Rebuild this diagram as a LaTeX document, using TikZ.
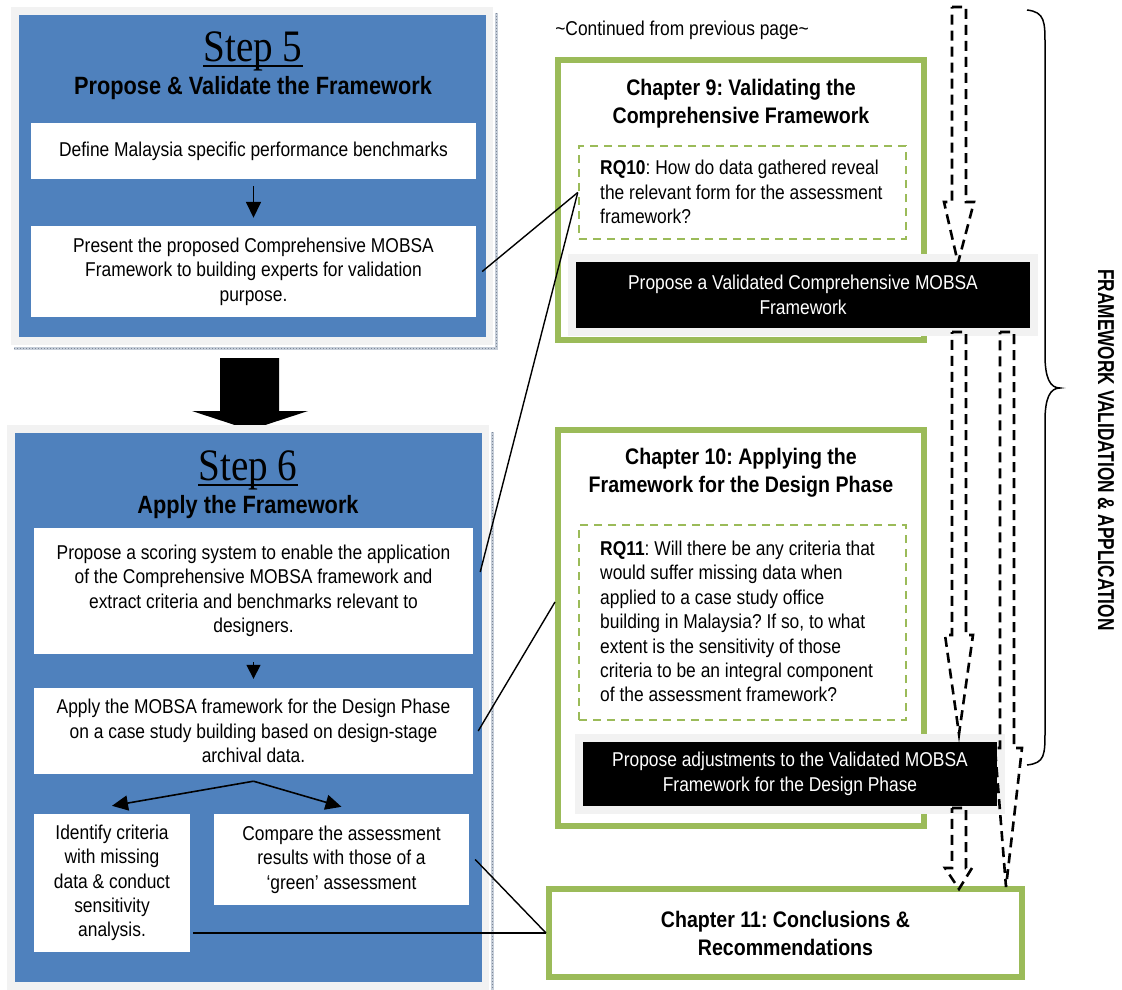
\documentclass[tikz,border=0pt]{standalone}
\usepackage{fontspec}
\setmainfont{Liberation Sans}[FakeStretch=0.87]
\newfontfamily\stepserif{Liberation Serif}[FakeStretch=0.87]
\newfontfamily\sidesans{Liberation Sans}[FakeStretch=0.75]
\usetikzlibrary{arrows.meta}
\definecolor{panelblue}{HTML}{4F81BD}
\definecolor{framegray}{HTML}{F2F2F2}
\definecolor{chapgreen}{HTML}{9BBB59}
\definecolor{shadowlight}{HTML}{C5CDD8}
\definecolor{shadowdark}{HTML}{7C8798}
\frenchspacing

\begin{document}
\begin{tikzpicture}[x=1pt,y=-1pt,
  txt/.style={font=\fontsize{20}{24.4}\selectfont, align=center, inner sep=0pt},
  wbox/.style={txt, fill=white},
  chapbox/.style={draw=chapgreen, line width=6pt, fill=white, inner sep=0pt},
  rqbox/.style={draw=chapgreen, line width=2.5pt, dash pattern=on 8pt off 6pt, inner sep=0pt},
  blackbox/.style={txt, fill=black, text=white, draw=framegray, line width=8pt},
  chaptitle/.style={font=\bfseries\fontsize{22.5}{28}\selectfont, align=center, inner sep=0pt},
  steptitle/.style={font=\stepserif\fontsize{45}{50}\selectfont, inner sep=0pt, anchor=base},
  stepsub/.style={font=\bfseries\fontsize{25}{28}\selectfont, inner sep=0pt, anchor=base},
  link/.style={line width=1.4pt},
  flow/.style={line width=1.6pt, -{Triangle[length=16pt,width=15pt]}},
  flowsmall/.style={line width=1.6pt, -{Triangle[length=14pt,width=14pt]}},
  hollow/.style={line width=2.6pt, dash pattern=on 10pt off 6pt, line join=miter},
  panelshadow/.style={shadowlight, line width=3pt},
  panelshadowdots/.style={shadowdark, line width=1pt, dash pattern=on 1pt off 2pt},
]
\useasboundingbox (0,0) rectangle (1122,990);

% ---------- Step 5 panel ----------
\fill[framegray] (11,7) rectangle (493,345);
\fill[panelblue] (19,15) rectangle (486,337);
\draw[panelshadow] (14,348) -- (496,348) -- (496,13);
\draw[panelshadowdots] (14,348) -- (496,348) -- (496,13);

\node[steptitle] (s5) at (253,62) {Step 5};
\draw[line width=1.8pt] ([yshift=-4pt]s5.base west) -- ([yshift=-4pt]s5.base east);
\node[stepsub] (s5sub) at (253,95) {Propose \& Validate the Framework};

\node[wbox, minimum width=445pt, minimum height=56pt] (b51) at (253.5,151)
  {Define Malaysia specific performance benchmarks};
\node[wbox, minimum width=445pt, minimum height=91pt] (b52) at (253.5,271.5)
  {Present the proposed Comprehensive MOBSA\\Framework to building experts for validation\\purpose.};
\draw[flow] ([yshift=-7pt]b51.south) -- ([yshift=8pt]b52.north);

% ---------- block arrow between the steps ----------
\fill (220,358) -- (279,358) -- (279,411) -- (308,411) -- (250,430) -- (192,411) -- (220,411) -- cycle;

% ---------- Step 6 panel ----------
\fill[framegray] (7,425) rectangle (489,990);
\fill[panelblue] (15,433) rectangle (482,982);
\draw[panelshadow] (492,432) -- (492,990);
\draw[panelshadowdots] (492,432) -- (492,990);

\node[steptitle] (s6) at (248,480) {Step 6};
\draw[line width=1.8pt] ([yshift=-5pt]s6.base west) -- ([yshift=-5pt]s6.base east);
\node[stepsub] (s6sub) at (248,513) {Apply the Framework};

\node[wbox, minimum width=439pt, minimum height=126pt] (b61) at (253.5,591)
  {Propose a scoring system to enable the application\\of the Comprehensive MOBSA framework and\\extract criteria and benchmarks relevant to\\designers.};
\node[wbox, minimum width=439pt, minimum height=86pt] (b62) at (253.5,731)
  {Apply the MOBSA framework for the Design Phase\\on a case study building based on design-stage\\archival data.};
\node[wbox, minimum width=156pt, minimum height=138pt] (b63) at (112,883)
  {Identify criteria\\with missing\\data \& conduct\\sensitivity\\analysis.};
\node[wbox, minimum width=255pt, minimum height=91pt] (b64) at (341.5,859.5)
  {Compare the assessment\\results with those of a\\‘green’ assessment};

\draw[flowsmall] ([yshift=-8pt]b61.south) -- ([yshift=9pt]b62.north);
\coordinate (fork) at ([yshift=-7pt]b62.south);
\draw[flow] (fork) -- ([yshift=8pt]b63.north);
\draw[flow] (fork) -- ([yshift=7pt]b64.north);

% ---------- chapters ----------
\node[txt] (cont) at (682,30) {\textasciitilde Continued from previous page\textasciitilde};

\node[chapbox, minimum width=366pt, minimum height=280pt] (ch9) at (741,200) {};
\node[chaptitle] (ch9t) at (741,104) {Chapter 9: Validating the\\Comprehensive Framework};
\node[rqbox, minimum width=327pt, minimum height=93pt] (rq10) at (742.5,192.5) {};
\node[txt, align=left, anchor=west] (rq10t) at (600,192)
  {\textbf{RQ10}: How do data gathered reveal\\the relevant form for the assessment\\framework?};
\node[blackbox, minimum width=462pt, minimum height=74pt] (bk9) at (803,295)
  {Propose a Validated Comprehensive MOBSA\\Framework};

\node[chapbox, minimum width=366pt, minimum height=396pt] (ch10) at (741,628) {};
\node[chaptitle] (ch10t) at (741,473) {Chapter 10: Applying the\\Framework for the Design Phase};
\node[rqbox, minimum width=327pt, minimum height=195pt] (rq11) at (742.5,622.5) {};
\node[txt, align=left, anchor=west] (rq11t) at (600,621.5)
  {\textbf{RQ11}: Will there be any criteria that\\would suffer missing data when\\applied to a case study office\\building in Malaysia? If so, to what\\extent is the sensitivity of those\\criteria to be an integral component\\of the assessment framework?};
\node[blackbox, minimum width=422pt, minimum height=72pt] (bk10) at (790,774)
  {Propose adjustments to the Validated MOBSA\\Framework for the Design Phase};

\node[chapbox, chaptitle, minimum width=473pt, minimum height=88pt] (ch11) at (785.5,933)
  {Chapter 11: Conclusions \&\\Recommendations};

% ---------- links from steps to chapters ----------
\draw[link] ([xshift=6pt]b52.east) -- (rq10.west);
\draw[link] ([xshift=7pt,yshift=19pt]b61.east) -- (rq10.west);
\draw[link] ([xshift=5pt]b62.east) -- ([yshift=26pt]ch10.west);
\draw[link] ([xshift=6pt]b64.east) -- (ch11.west);
\draw[link] ([xshift=3pt,yshift=-50pt]b63.east) -- (ch11.west);

% ---------- dashed hollow flow arrows ----------
\draw[hollow] (952,7) -- (966,7) -- (966,202) -- (974,202) -- (958,263) -- (944,202) -- (952,202) -- cycle;
\draw[hollow] (952,332) -- (966,332) -- (966,635) -- (973,635) -- (959,734) -- (945,635) -- (952,635) -- cycle;
\draw[hollow] (952,808) -- (966,808) -- (966,868) -- (972,868) -- (959,889) -- (945,868) -- (952,868) -- cycle;
\draw[hollow] (1000,332) -- (1014,332) -- (1014,748) -- (1022,748) -- (1006,887) -- (995,748) -- (1000,748) -- cycle;

% ---------- brace and side label ----------
\draw[line width=1.5pt] (1027,10) .. controls (1045,12) and (1045,22) .. (1045,45)
  -- (1045,355) .. controls (1045,378) and (1050,388) .. (1060,388)
  .. controls (1050,388) and (1045,398) .. (1045,421)
  -- (1045,730) .. controls (1045,755) and (1045,763) .. (1027,765);
\node[rotate=-90, font={\sidesans\bfseries\fontsize{23}{26}\selectfont}] (side) at (1106,450)
  {FRAMEWORK VALIDATION \& APPLICATION};
\end{tikzpicture}
\end{document}
